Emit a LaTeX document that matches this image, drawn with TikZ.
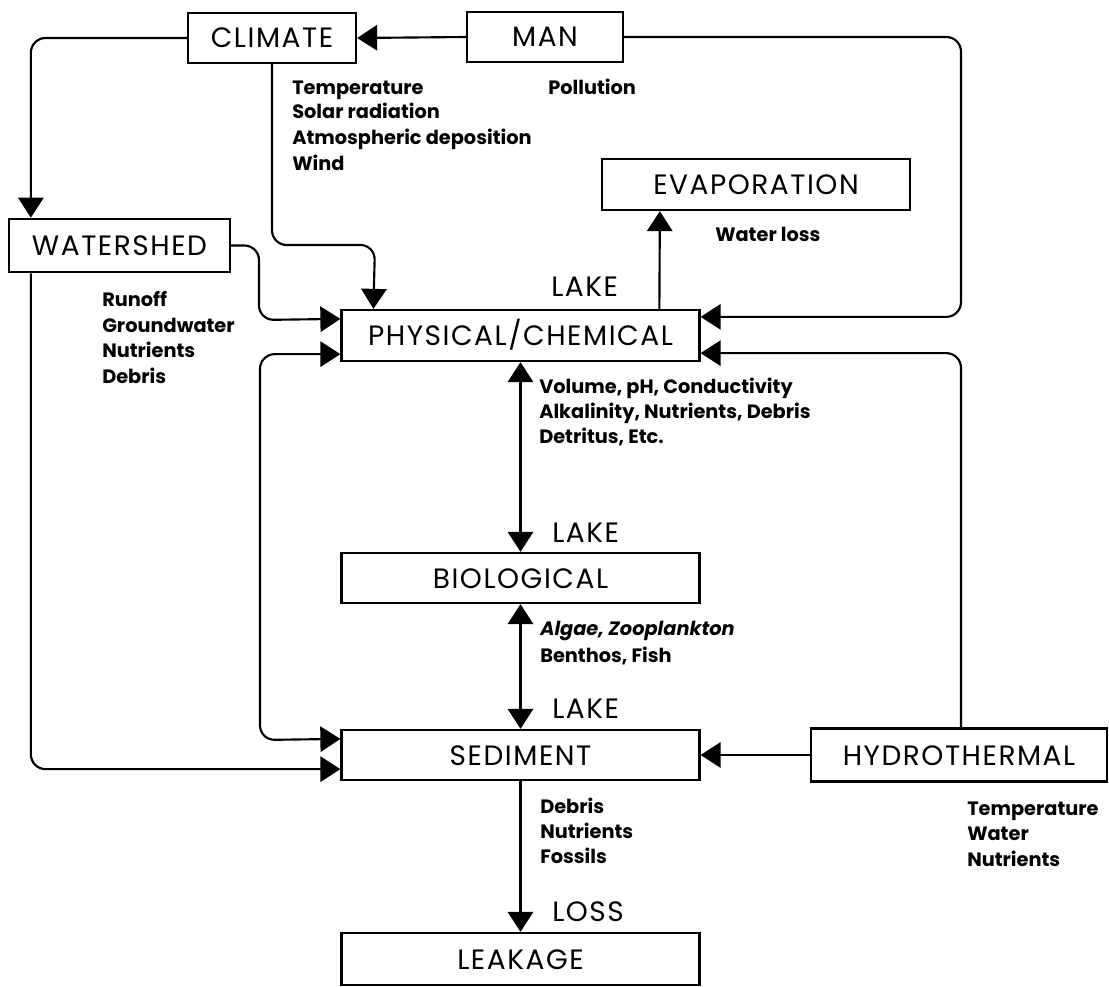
\documentclass[tikz,border=0pt]{standalone}
\usepackage{fontspec}
\setmainfont{Poppins}
\usetikzlibrary{arrows.meta,calc}
\begin{document}
\begin{tikzpicture}[x=0.75pt,y=-0.75pt,
  boxfont/.style={font=\fontsize{21}{24}\selectfont\addfontfeatures{LetterSpace=5.5}},
  box/.style={draw,line width=1.7pt,inner sep=0pt,text height=15pt,text depth=0pt,boxfont},
  lbl/.style={anchor=base west,inner sep=0pt,boxfont},
  note/.style={anchor=base west,inner sep=0pt,font=\fontsize{14.5}{17}\selectfont\bfseries},
  conn/.style={line width=1.6pt,-{Triangle[length=15pt,width=19pt]},rounded corners=11pt},
  conn2/.style={line width=1.6pt,{Triangle[length=15pt,width=19pt]}-{Triangle[length=15pt,width=19pt]},rounded corners=11pt},
]
\useasboundingbox (0,0) rectangle (1109,987);
% boxes
\node[box,minimum width=126pt,minimum height=37.5pt] (climate) at (272,38) {CLIMATE};
\node[box,minimum width=117pt,minimum height=37.5pt] (man) at (545,37) {MAN};
\node[box,minimum width=165.75pt,minimum height=40pt] (watershed) at (119.5,245.5) {WATERSHED};
\node[box,minimum width=231pt,minimum height=38.25pt] (evap) at (756,184.5) {EVAPORATION};
\node[box,minimum width=268.5pt,minimum height=38.25pt] (phys) at (520.5,335.5) {PHYSICAL/CHEMICAL};
\node[box,minimum width=268.5pt,minimum height=37.5pt] (bio) at (520.5,578) {BIOLOGICAL};
\node[box,minimum width=268.5pt,minimum height=37.5pt] (sed) at (520.5,755) {SEDIMENT};
\node[box,minimum width=222pt,minimum height=39.75pt] (hydro) at (959,755) {HYDROTHERMAL};
\node[box,minimum width=268.5pt,minimum height=39pt] (leak) at (520.5,959) {LEAKAGE};
% connectors
\draw[conn] (man.west) -- (climate.east);
\draw[conn] (climate.west) -| ($(watershed.north west)+(23,0)$);
\draw[conn] (climate.south) |- (375,245) -- ($(phys.north west)+(33,0)$);
\draw[conn] (watershed.east) -| (259,320) -- ($(phys.north west)+(0,10)$);
\draw[conn2] ($(phys.south west)+(0,-8)$) -| (260,740) -- ($(sed.north west)+(0,10)$);
\draw[conn] ($(watershed.south west)+(23,0)$) |- ($(sed.south west)+(0,-12)$);
\draw[conn] (man.east) -| (961,200) |- ($(phys.north east)+(0,8)$);
\draw[conn] ($(hydro.north)+(2,0)$) |- ($(phys.south east)+(0,-9)$);
\draw[conn] (hydro.west) -- (sed.east);
\draw[conn] ($(phys.north west)+(319,0)$) -- ($(evap.south west)+(59,0)$);
\draw[conn2] (phys.south) -- (bio.north);
\draw[conn2] (bio.south) -- (sed.north);
\draw[conn] (sed.south) -- (leak.north);
% labels
\node[note] (c1) at (292,95) {Temperature};
\node[note] (c2) at (292,119) {Solar radiation};
\node[note] (c3) at (292,145) {Atmospheric deposition};
\node[note] (c4) at (292,171) {Wind};
\node[note] (pol) at (548,95) {Pollution};
\node[note] (wl) at (715,242) {Water loss};
\node[lbl] (lake1) at (551,297) {LAKE};
\node[note] (w1) at (102,306) {Runoff};
\node[note] (w2) at (102,332) {Groundwater};
\node[note] (w3) at (102,357) {Nutrients};
\node[note] (w4) at (102,383) {Debris};
\node[note] (p1) at (539,393) {Volume, pH, Conductivity};
\node[note] (p2) at (539,418) {Alkalinity, Nutrients, Debris};
\node[note] (p3) at (539,443) {Detritus, Etc.};
\node[lbl] (lake2) at (552,542) {LAKE};
\node[note,font=\fontsize{14.5}{17}\selectfont\bfseries\itshape] (b1) at (540,635) {Algae, Zooplankton};
\node[note] (b2) at (540,662) {Benthos, Fish};
\node[lbl] (lake3) at (552,718) {LAKE};
\node[note] (s1) at (540,813) {Debris};
\node[note] (s2) at (540,838) {Nutrients};
\node[note] (s3) at (540,863) {Fossils};
\node[lbl] (loss) at (552,921) {LOSS};
\node[note] (h1) at (967,815) {Temperature};
\node[note] (h2) at (967,840) {Water};
\node[note] (h3) at (967,866) {Nutrients};
\end{tikzpicture}
\end{document}
